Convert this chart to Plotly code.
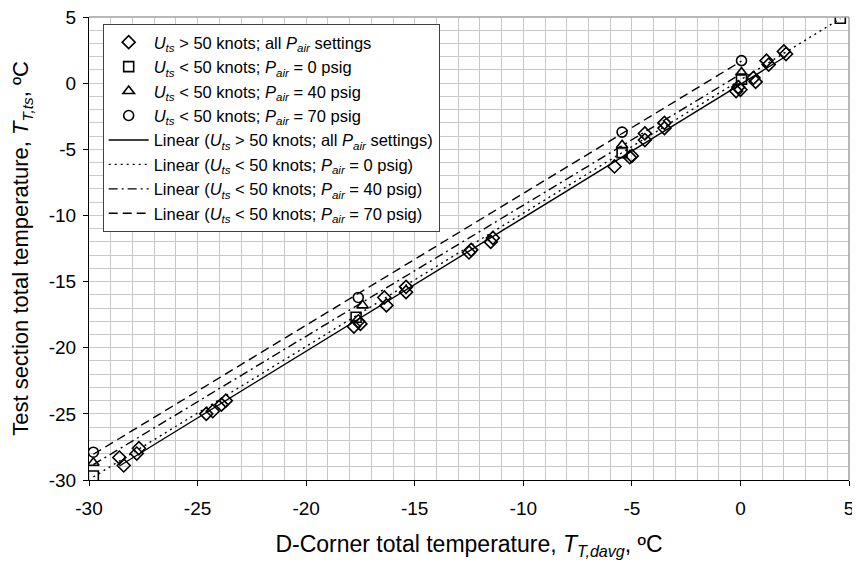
import numpy as np
import plotly.graph_objects as go

# ---- data ----
diam_x = [-28.6, -28.4, -27.7, -27.8, -24.6, -24.3, -23.9, -23.7, -17.8, -17.5, -17.6,
          -16.4, -16.3, -15.4, -15.4, -12.5, -12.4, -11.5, -11.4, -5.8, -5.1, -5.0,
          -4.4, -4.4, -3.5, -3.5, -0.2, -0.1, 0.0, 0.6, 0.7, 1.2, 1.3, 2.0, 2.1]
diam_y = [-28.3, -28.9, -27.6, -28.0, -25.0, -24.8, -24.3, -24.0, -18.4, -18.2, -18.0,
          -16.2, -16.8, -15.4, -15.8, -12.8, -12.6, -12.0, -11.7, -6.3, -5.6, -5.5,
          -3.8, -4.3, -3.0, -3.4, -0.6, -0.3, -0.5, 0.4, 0.1, 1.7, 1.4, 2.4, 2.2]
sq_x = [-29.8, -17.7, -5.45, 0.05, 4.6]
sq_y = [-29.7, -17.7, -5.25, 0.3, 4.9]
tri_x = [-29.8, -17.4, -5.45, 0.05]
tri_y = [-28.7, -16.8, -4.7, 0.8]
cir_x = [-29.8, -17.6, -5.45, 0.05]
cir_y = [-27.9, -16.2, -3.7, 1.7]

x_ticks = [-30, -25, -20, -15, -10, -5, 0, 5]
x_tick_text = ["-30", "-25", "-20", "-15", "-10", "-5", "0", "5"]
y_ticks = [-30, -25, -20, -15, -10, -5, 0, 5]
y_tick_text = ["-30", "-25", "-20", "-15", "-10", "-5", "0", "5"]

U = "<i>U</i><sub><i>ts</i></sub>"
P = "<i>P</i><sub><i>air</i></sub>"
names_pts = [f"{U} > 50 knots; all {P} settings",
             f"{U} < 50 knots; {P} = 0 psig",
             f"{U} < 50 knots; {P} = 40 psig",
             f"{U} < 50 knots; {P} = 70 psig"]
names_fit = [f"Linear ({U} > 50 knots; all {P} settings)",
             f"Linear ({U} < 50 knots; {P} = 0 psig)",
             f"Linear ({U} < 50 knots; {P} = 40 psig)",
             f"Linear ({U} < 50 knots; {P} = 70 psig)"]

series = [(diam_x, diam_y, "diamond-open"), (sq_x, sq_y, "square-open"),
          (tri_x, tri_y, "triangle-up-open"), (cir_x, cir_y, "circle-open")]
dashes = ["solid", "2px,4px", "9px,4px,2px,4px", "9px,5px"]

fig = go.Figure()
for (sx, sy, sym), nm in zip(series, names_pts):
    fig.add_trace(go.Scatter(x=sx, y=sy, mode="markers", name=nm,
                             marker=dict(symbol=sym, size=10, color="black",
                                         line=dict(color="black", width=1.6))))
for (sx, sy, sym), nm, dsh in zip(series, names_fit, dashes):
    a, b = np.polyfit(sx, sy, 1)
    lx = [min(sx), max(sx)]
    ly = [a * v + b for v in lx]
    fig.add_trace(go.Scatter(x=lx, y=ly, mode="lines", name=nm,
                             line=dict(color="black", width=1.4, dash=dsh)))

grid_c = "#c8c8c8"
# page body has an 8px margin; sizes compensate so the view matches 860x564
fig.update_layout(
    width=852, height=556,
    margin=dict(l=81, r=11, t=9, b=84),
    paper_bgcolor="white", plot_bgcolor="white",
    font=dict(family="Liberation Sans, Arial, sans-serif", color="black", size=18),
    showlegend=True,
    legend=dict(x=0.018, y=0.985, xanchor="left", yanchor="top",
                bgcolor="white", bordercolor="#404040", borderwidth=1,
                font=dict(size=16.5), tracegroupgap=0, itemwidth=40),
    xaxis=dict(range=[-30, 5], tickvals=x_ticks, ticktext=x_tick_text,
               showgrid=True, gridcolor=grid_c, gridwidth=1,
               minor=dict(dtick=1, showgrid=True, gridcolor=grid_c, gridwidth=1),
               showline=True, linecolor="black", linewidth=1,
               ticks="outside", ticklen=5, tickcolor="black",
               zeroline=False, tickfont=dict(size=19), automargin=False,
               ticklabeloverflow="allow", ticklabelstandoff=6,
               title=dict(text="D-Corner total temperature, <i>T</i><sub><i>T,davg</i></sub>, ºC",
                          font=dict(size=23), standoff=18)),
    yaxis=dict(range=[-30, 5], tickvals=y_ticks, ticktext=y_tick_text,
               showgrid=True, gridcolor=grid_c, gridwidth=1,
               minor=dict(dtick=1, showgrid=True, gridcolor=grid_c, gridwidth=1),
               showline=True, linecolor="black", linewidth=1,
               ticks="outside", ticklen=5, tickcolor="black",
               zeroline=False, tickfont=dict(size=19), automargin=False,
               ticklabeloverflow="allow", ticklabelstandoff=3,
               title=dict(text="Test section total temperature, <i>T</i><sub><i>T,ts</i></sub>, ºC",
                          font=dict(size=22), standoff=19)),
)
fig.add_shape(type="line", xref="paper", yref="paper", x0=0, x1=1, y0=1, y1=1,
              line=dict(color="#a0a0a0", width=1.5))
fig.add_shape(type="line", xref="paper", yref="paper", x0=1, x1=1, y0=0, y1=1,
              line=dict(color="#a0a0a0", width=1.5))

fig.write_html("out.html")
